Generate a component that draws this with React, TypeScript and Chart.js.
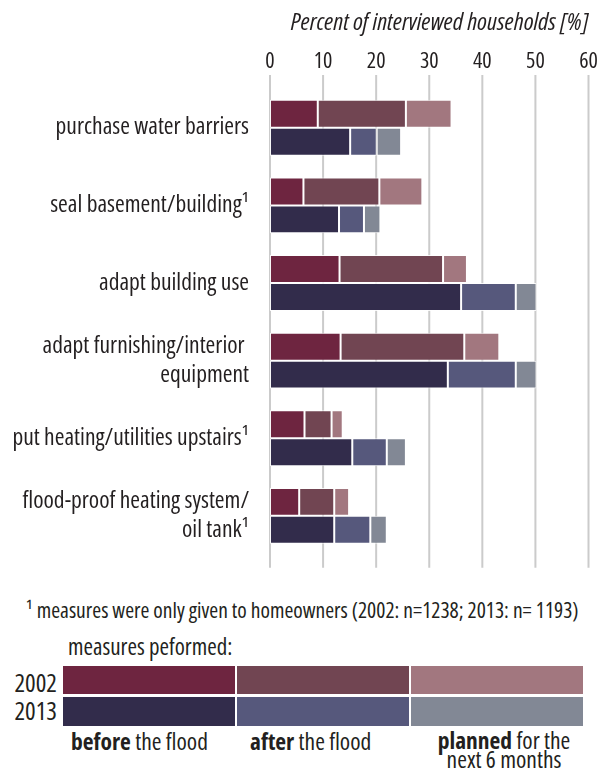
import React, { useEffect, useRef } from "react";
import { Chart, registerables } from "chart.js";

Chart.register(...registerables);

// ---------- data ----------
const categories: (string | string[])[] = [
  "purchase water barriers",
  "seal basement/building¹",
  "adapt building use",
  ["adapt furnishing/interior ", "equipment"],
  "put heating/utilities upstairs¹",
  ["flood-proof heating system/", "oil tank¹"],
];

const before2002 = [9.0, 6.3, 13.1, 13.3, 6.5, 5.5];
const after2002 = [16.6, 14.3, 19.5, 23.3, 5.1, 6.6];
const planned2002 = [8.6, 8.1, 4.5, 6.6, 2.1, 2.8];

const before2013 = [15.1, 13.0, 36.0, 33.5, 15.5, 12.1];
const after2013 = [5.0, 4.7, 10.3, 12.8, 6.5, 6.8];
const planned2013 = [4.6, 3.1, 3.9, 3.9, 3.6, 3.1];

const years = ["2002", "2013"];
const phases = ["before", "after", "planned"];

const colors2002 = ["#6e2540", "#714552", "#a2777f"];
const colors2013 = ["#322c4b", "#56587c", "#828895"];

const axisTitle = "Percent of interviewed households [%]";
const footnote = "¹ measures were only given to homeowners (2002: n=1238; 2013: n= 1193)";
const legendTitle = "measures peformed:";

// ---------- styles ----------
const FONT = "'Open Sans', sans-serif";
const COND = "condensed"; // injected into the canvas font shorthand
const TEXT = "#231f20";
const GRID = "#cbcbcb";

const extGrid = {
  id: "extGrid",
  beforeDatasetsDraw(chart: any) {
    const { ctx, chartArea, scales } = chart;
    const x = scales.x;
    ctx.save();
    ctx.strokeStyle = GRID;
    ctx.lineWidth = 2;
    x.ticks.forEach((t: any) => {
      const px = x.getPixelForValue(t.value);
      ctx.beginPath();
      ctx.moveTo(px, chartArea.top - 14);
      ctx.lineTo(px, chartArea.bottom + 13);
      ctx.stroke();
    });
    ctx.restore();
  },
};

function makeDataset(label: string, data: number[], color: string, stack: string) {
  return {
    label,
    data,
    stack,
    backgroundColor: color,
    borderColor: "rgba(255,255,255,0.85)",
    borderWidth: 1,
    borderSkipped: false,
    categoryPercentage: 0.72,
    barPercentage: 1.0,
  };
}

// top of an HTML line box so that the text baseline lands at `baseline`
function topFor(baseline: number, size: number, lh: number) {
  return baseline - ((lh - 1.362 * size) / 2 + 1.069 * size);
}

export default function App() {
  const ref = useRef<HTMLCanvasElement>(null);

  useEffect(() => {
    if (!ref.current) return;
    const d2002 = [before2002, after2002, planned2002];
    const d2013 = [before2013, after2013, planned2013];
    const datasets = [
      ...d2002.map((d, i) => makeDataset(`${phases[i]} ${years[0]}`, d, colors2002[i], years[0])),
      ...d2013.map((d, i) => makeDataset(`${phases[i]} ${years[1]}`, d, colors2013[i], years[1])),
    ];
    const chart = new Chart(ref.current, {
      type: "bar",
      data: { labels: categories as any, datasets: datasets as any },
      options: {
        indexAxis: "y",
        animation: false,
        responsive: true,
        maintainAspectRatio: false,
        layout: { padding: { top: 0, right: 9.5, bottom: 25, left: 0 } },
        plugins: {
          legend: { display: false },
          tooltip: { enabled: false },
        },
        scales: {
          x: {
            position: "top",
            stacked: true,
            min: 0,
            max: 60,
            ticks: {
              stepSize: 10,
              padding: 14,
              color: TEXT,
              font: { family: FONT, size: 22, weight: COND as any },
            },
            grid: { display: false, drawTicks: false },
            border: { display: false },
            title: {
              display: true,
              text: axisTitle,
              align: "end",
              color: TEXT,
              font: { family: FONT, size: 24.5, style: "italic", weight: COND as any },
              padding: { top: 8, bottom: 0 },
            },
            afterFit: (s: any) => {
              s.height = 89;
              s.paddingLeft = 0;
              s.paddingRight = 0;
            },
          },
          y: {
            stacked: true,
            ticks: {
              padding: 21,
              color: TEXT,
              autoSkip: false,
              font: { family: FONT, size: 23.5, weight: COND as any, lineHeight: 1.22 },
            },
            grid: { display: false, drawTicks: false },
            border: { display: false },
            afterFit: (s: any) => {
              s.width = 270;
            },
          },
        },
      },
      plugins: [extGrid],
    });
    return () => chart.destroy();
  }, []);

  const txt = (extra: React.CSSProperties): React.CSSProperties => ({
    position: "absolute",
    fontFamily: FONT,
    fontStretch: "condensed",
    color: TEXT,
    whiteSpace: "nowrap",
    ...extra,
  });

  const colLeft = [62.7, 236.7, 411];
  const colWidth = [172, 172.3, 172.3];
  const rowTop = [666, 696.5];
  const rowH = [28.3, 29];
  const yearBase = [691.7, 720];
  const yearColors = [colors2002, colors2013];

  return (
    <div style={{ position: "absolute", left: 0, top: 0, width: 598, height: 772, background: "#fff", overflow: "hidden" }}>
      <div style={{ position: "absolute", left: 0, top: 0, width: 598, height: 590 }}>
        <canvas ref={ref} />
      </div>
      <div style={txt({ left: 26, top: topFor(618, 21.5, 22), fontSize: 21.5, lineHeight: "22px" })}>{footnote}</div>
      <div style={txt({ left: 68, top: topFor(655.5, 23, 23), fontSize: 23, lineHeight: "23px" })}>{legendTitle}</div>
      {years.map((y, r) => (
        <div key={y} style={txt({ right: 598 - 57, top: topFor(yearBase[r], 25, 25), fontSize: 25, lineHeight: "25px" })}>
          {y}
        </div>
      ))}
      {years.map((y, r) =>
        phases.map((p, c) => (
          <div
            key={y + p}
            style={{
              position: "absolute",
              left: colLeft[c],
              top: rowTop[r],
              width: colWidth[c],
              height: rowH[r],
              background: yearColors[r][c],
            }}
          />
        ))
      )}
      <div style={txt({ left: 71, top: topFor(750, 23.5, 24), fontSize: 23.5, lineHeight: "24px" })}>
        <b>before</b> the flood
      </div>
      <div style={txt({ left: 250, top: topFor(750, 23.5, 24), fontSize: 23.5, lineHeight: "24px" })}>
        <b>after</b> the flood
      </div>
      <div
        style={txt({
          left: 420,
          width: 168,
          top: topFor(749.5, 23.5, 19),
          fontSize: 23.5,
          lineHeight: "19px",
          textAlign: "center",
          whiteSpace: "normal",
        })}
      >
        <b>planned</b> for the
        <br />
        next 6 months
      </div>
    </div>
  );
}
